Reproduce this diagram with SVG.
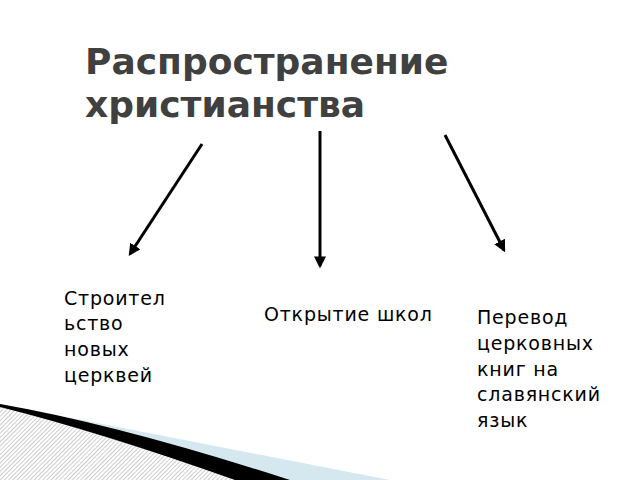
<svg xmlns="http://www.w3.org/2000/svg" width="640" height="480" viewBox="0 0 640 480">
<style>
.t{font-family:"DejaVu Sans",sans-serif;font-size:19px;letter-spacing:0.8px;fill:#000}
.h{font-family:"DejaVu Sans",sans-serif;font-size:36px;font-weight:bold;fill:#404040}
.c{stroke:#000;stroke-width:3;fill:none;marker-end:url(#a)}
</style>
<defs>
<marker id="a" viewBox="0 0 10 10" refX="8" refY="5" markerWidth="4" markerHeight="4" orient="auto"><path d="M0,0 L10,5 L0,10 z" fill="#000"/></marker>
<pattern id="p" width="3" height="3" patternUnits="userSpaceOnUse" patternTransform="rotate(45)"><rect width="3" height="3" fill="#fff"/><rect width="1" height="3" fill="#ccc"/></pattern>
</defs>
<rect width="640" height="480" fill="#fff"/>
<g id="decor">
<path d="M0,404 L390,480 L0,480 Z" fill="#d6e8ef"/>
<path d="M0,404 Q120,425 290,480 L0,480 Z" fill="#000"/>
<path d="M0,407 Q100,432 235,480 L0,480 Z" fill="url(#p)"/>
</g>
<g id="title"><text class="h" x="85" y="74">Распространение</text><text class="h" x="85" y="117">христианства</text></g>
<g id="connectors">
<line class="c" x1="202" y1="144" x2="130" y2="254"/>
<line class="c" x1="320" y1="131" x2="320" y2="266"/>
<line class="c" x1="445" y1="135" x2="504" y2="250"/>
</g>
<g id="n1"><text class="t" x="64" y="305">Строител</text><text class="t" x="64" y="330">ьство</text><text class="t" x="64" y="356">новых</text><text class="t" x="64" y="382">церквей</text></g>
<g id="n2"><text class="t" x="264" y="321">Открытие школ</text></g>
<g id="n3"><text class="t" x="477" y="324">Перевод</text><text class="t" x="477" y="350">церковных</text><text class="t" x="477" y="376">книг на</text><text class="t" x="477" y="401">славянский</text><text class="t" x="477" y="427">язык</text></g>
</svg>
